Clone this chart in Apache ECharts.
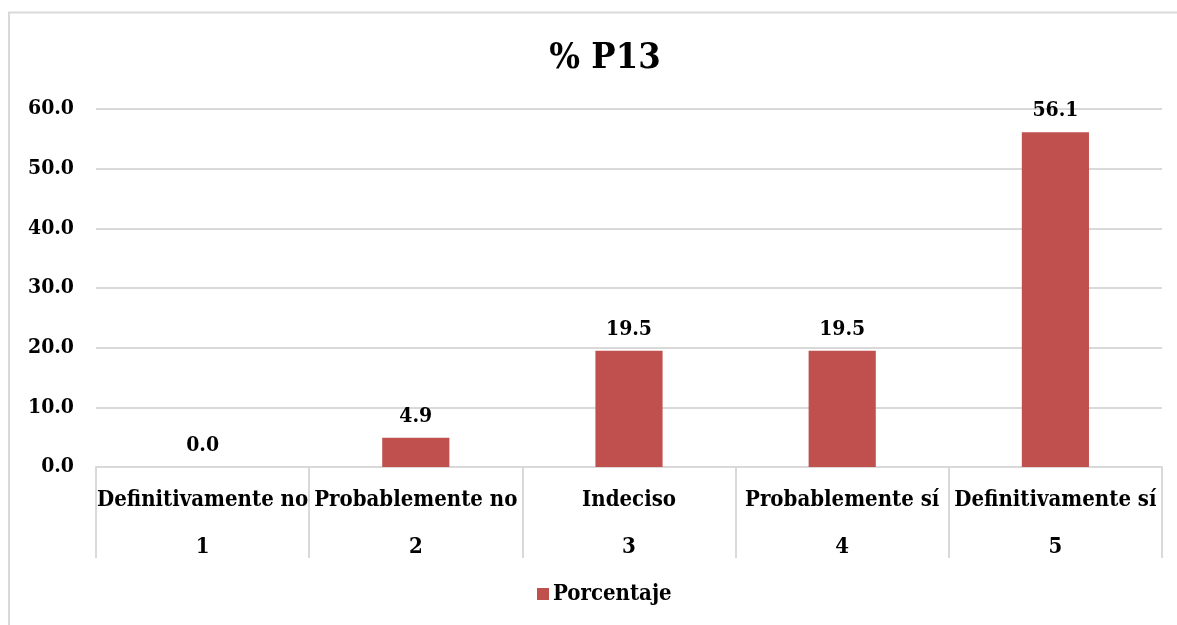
<!DOCTYPE html>
<html>
<head>
<meta charset="utf-8">
<title>% P13</title>
<script src="https://cdn.jsdelivr.net/npm/echarts@6/dist/echarts.min.js"></script>
<style>
  html, body { margin: 0; padding: 0; background: #ffffff; }
  #chart { width: 1177px; height: 625px; }
</style>
</head>
<body>
<div id="chart"></div>
<script>
// Response categories, their scale codes and the percentage for each
const categories = ['Definitivamente no', 'Probablemente no', 'Indeciso', 'Probablemente sí', 'Definitivamente sí'];
const codes = ['1', '2', '3', '4', '5'];
const porcentaje = [0.0, 4.9, 19.5, 19.5, 56.1];
const yTicks = [0, 10, 20, 30, 40, 50, 60];

const FONT = '"DejaVu Serif Condensed", "DejaVu Serif", "Liberation Serif", serif';
const GRID_COLOR = '#d9d9d9';
const BAR_COLOR = '#C0504D';

const chart = echarts.init(document.getElementById('chart'), null, { renderer: 'canvas' });

chart.setOption({
  animation: false,
  backgroundColor: '#ffffff',
  textStyle: { fontFamily: FONT },
  // chart-area frame: left and top edges
  graphic: [
    {
      type: 'line',
      shape: { x1: 9, y1: 12, x2: 9, y2: 625 },
      style: { stroke: GRID_COLOR, lineWidth: 2 },
      silent: true
    },
    {
      type: 'line',
      shape: { x1: 8, y1: 12.5, x2: 1177, y2: 12.5 },
      style: { stroke: GRID_COLOR, lineWidth: 2 },
      silent: true
    }
  ],
  title: {
    text: '% P13',
    left: 600,
    textAlign: 'center',
    top: 36,
    textStyle: { fontFamily: FONT, fontWeight: 'bold', fontSize: 36, color: '#000000' }
  },
  legend: {
    top: 583,
    left: 537,
    padding: 0,
    itemWidth: 12,
    itemHeight: 12,
    itemGap: 6,
    icon: 'rect',
    textStyle: { fontFamily: FONT, fontWeight: 'bold', fontSize: 22, color: '#000000', padding: [0, 0, 0, -1] },
    data: ['Porcentaje']
  },
  grid: { left: 96, right: 15, top: 109, bottom: 158, containLabel: false },
  xAxis: {
    type: 'category',
    data: categories.map((c, i) => c + '|' + codes[i]),
    boundaryGap: true,
    axisLine: { show: true, lineStyle: { color: GRID_COLOR, width: 2 } },
    axisTick: { show: true, length: 91, interval: 0, lineStyle: { color: GRID_COLOR, width: 2 } },
    axisLabel: {
      interval: 0,
      margin: 10,
      formatter: function (v) {
        const parts = v.split('|');
        return '{n|' + parts[0] + '}\n{v|' + parts[1] + '}';
      },
      rich: {
        n: { fontFamily: FONT, fontWeight: 'bold', fontSize: 22, color: '#000000', lineHeight: 47 },
        v: { fontFamily: FONT, fontWeight: 'bold', fontSize: 22, color: '#000000', lineHeight: 47 }
      }
    }
  },
  yAxis: {
    type: 'value',
    min: yTicks[0],
    max: yTicks[yTicks.length - 1],
    interval: 10,
    axisLine: { show: false },
    axisTick: { show: false },
    splitLine: { show: true, lineStyle: { color: GRID_COLOR, width: 2 } },
    axisLabel: {
      margin: 22,
      fontFamily: FONT,
      fontWeight: 'bold',
      fontSize: 21,
      color: '#000000',
      padding: [3, 0, 0, 0],
      formatter: v => v.toFixed(1)
    }
  },
  series: [{
    name: 'Porcentaje',
    type: 'bar',
    data: porcentaje,
    barWidth: '31.5%',
    itemStyle: { color: BAR_COLOR },
    label: {
      show: true,
      position: 'top',
      distance: 11,
      fontFamily: FONT,
      fontWeight: 'bold',
      fontSize: 21,
      color: '#000000',
      formatter: p => p.value.toFixed(1)
    }
  }]
});
</script>
</body>
</html>
